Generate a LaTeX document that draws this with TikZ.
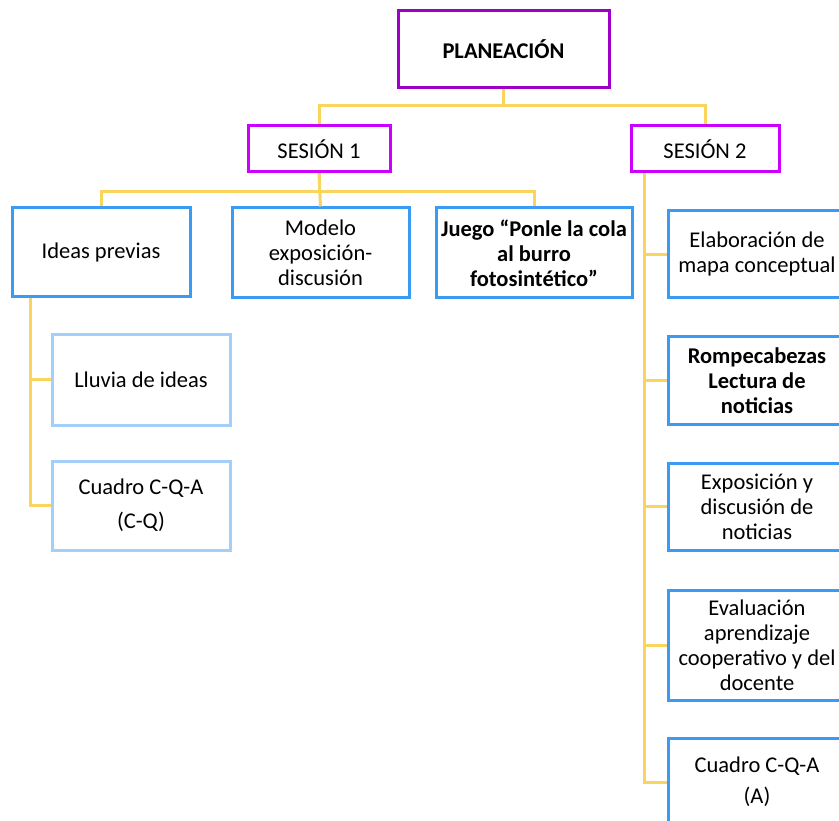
\documentclass[tikz,border=0pt]{standalone}
\usepackage{fontspec}
\setmainfont{Carlito}
\definecolor{planc}{HTML}{9E00C8}
\definecolor{sesc}{HTML}{CC00FF}
\definecolor{bluec}{HTML}{3A9BF5}
\definecolor{lightc}{HTML}{A3D0FA}
\definecolor{yelc}{HTML}{F9D55E}
\begin{document}
\begin{tikzpicture}[x=1pt,y=-1pt,
  box/.style={draw, line width=3pt, inner sep=1pt, align=center, fill=white,
    font=\fontsize{22.5}{25}\selectfont},
  planbox/.style={box, draw=planc, font=\fontsize{22.5}{25}\selectfont\bfseries},
  sesbox/.style={box, draw=sesc},
  bluebox/.style={box, draw=bluec},
  lightbox/.style={box, draw=lightc},
  conn/.style={draw=yelc, line width=3pt}]
\useasboundingbox (0,0) rectangle (839,821);
\clip (0,0) rectangle (839,821);
\fill[white] (0,0) rectangle (839,821);

\node[planbox, minimum width=211pt, minimum height=77pt] (plan) at (503.5,49.5) {PLANEACIÓN};
\node[sesbox, minimum width=142pt, minimum height=46pt] (s1) at (319,149) {SESIÓN 1};
\node[sesbox, minimum width=148pt, minimum height=46pt] (s2) at (705,149) {SESIÓN 2};

\node[bluebox, minimum width=178pt, minimum height=89pt] (ideas) at (101,252.5) {Ideas previas};
\node[bluebox, minimum width=177pt, minimum height=90pt] (modelo) at (320.5,253) {Modelo\\exposición-\\discusión};
\node[bluebox, minimum width=196pt, minimum height=90pt, font=\fontsize{22.5}{25}\selectfont\bfseries] (juego) at (534,253) {Juego “Ponle la cola\\al burro\\fotosintético”};

\node[lightbox, minimum width=178pt, minimum height=90pt] (lluvia) at (141,380) {Lluvia de ideas};
\node[lightbox, minimum width=178pt, minimum height=89pt] (cq) at (141,505.5) {Cuadro C-Q-A\\[9pt](C-Q)};

\node[bluebox, minimum width=178pt, minimum height=87pt] (r1) at (757,254.5) {Elaboración de\\mapa conceptual};
\node[bluebox, minimum width=178pt, minimum height=87pt, font=\fontsize{22.5}{25}\selectfont\bfseries] (r2) at (757,380.5) {Rompecabezas\\Lectura de\\noticias};
\node[bluebox, minimum width=178pt, minimum height=87pt] (r3) at (757,506.5) {Exposición y\\discusión de\\noticias};
\node[bluebox, minimum width=178pt, minimum height=110pt] (r4) at (757,645) {Evaluación\\aprendizaje\\cooperativo y del\\docente};
\node[bluebox, minimum width=178pt, minimum height=88pt] (r5) at (757,782) {Cuadro C-Q-A\\[6pt](A)};

\draw[conn] (plan.south) -- ++(0,16) -| (s1.north);
\draw[conn] (plan.south) -- ++(0,16) -| (s2.north);

\draw[conn] (s1.south) -- ++(0,18) -| (ideas.north);
\draw[conn] (s1.south) -- (modelo.north);
\draw[conn] (s1.south) -- ++(0,18) -| (juego.north);

\draw[conn] ([xshift=20pt]ideas.south west) |- (lluvia.west);
\draw[conn] ([xshift=20pt]ideas.south west) |- (cq.west);

\draw[conn] ([xshift=15pt]s2.south west) |- (r1.west);
\draw[conn] ([xshift=15pt]s2.south west) |- (r2.west);
\draw[conn] ([xshift=15pt]s2.south west) |- (r3.west);
\draw[conn] ([xshift=15pt]s2.south west) |- (r4.west);
\draw[conn] ([xshift=15pt]s2.south west) |- (r5.west);
\end{tikzpicture}
\end{document}
